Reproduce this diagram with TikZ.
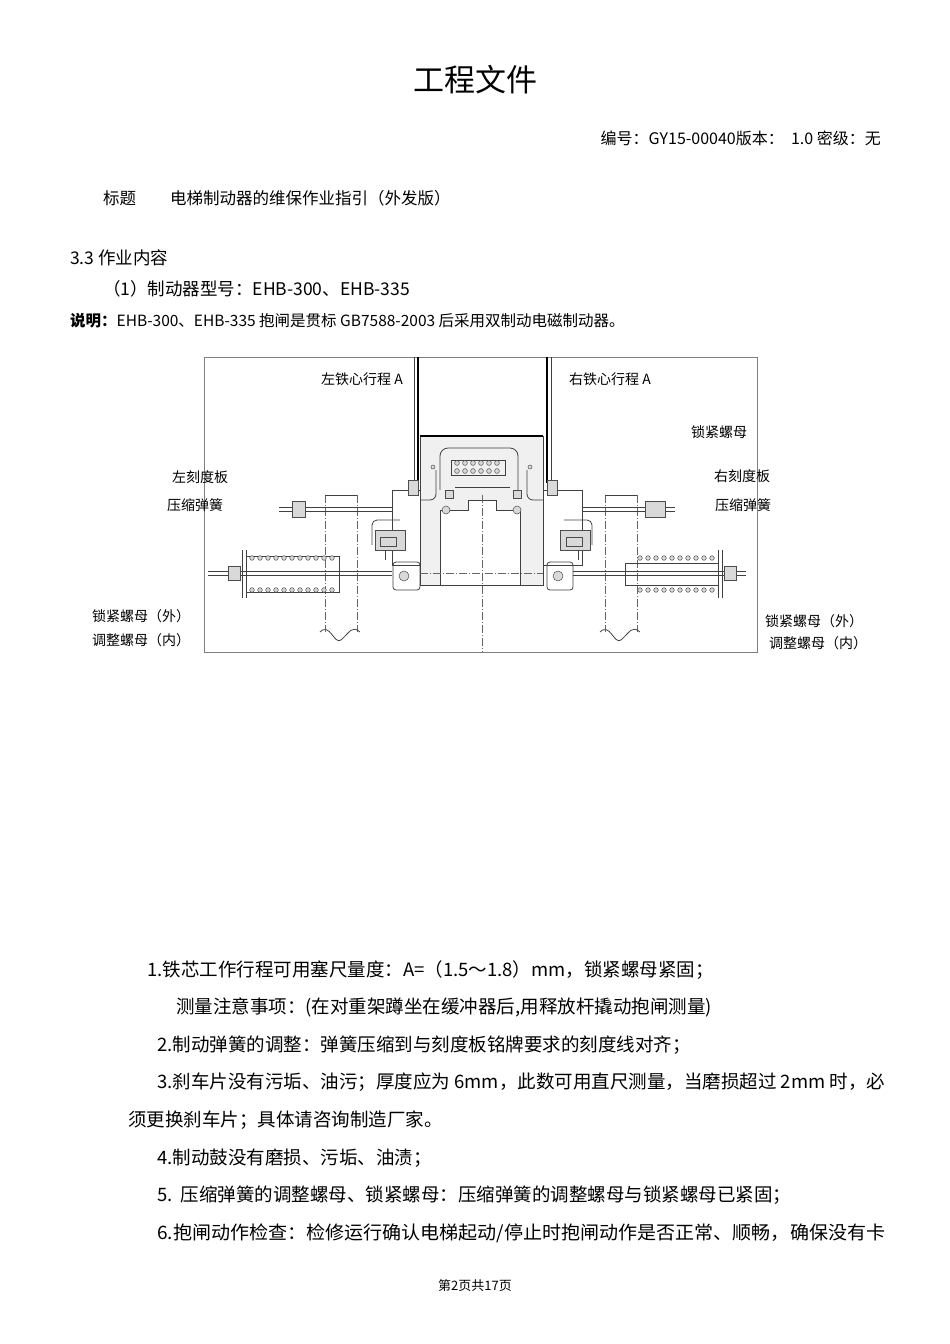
\documentclass[tikz,border=0pt]{standalone}
\usepackage{fontspec}
\usepackage{graphicx}
\setmainfont{Noto Sans CJK SC}
\begin{document}
\begin{tikzpicture}[x=1pt,y=-1pt,
  txt/.style={anchor=base west,inner sep=0pt,font=\fontsize{18.5}{20}\selectfont},
  lab/.style={anchor=center,inner sep=0pt,font=\fontsize{14}{16}\selectfont},
  ln/.style={draw=black!75,line width=0.8pt},
  cl/.style={draw=black!60,line width=0.6pt,dash pattern=on 8pt off 2pt on 1pt off 2pt},
  bolt/.style={draw=black!70,fill=black!15,line width=0.5pt}]
\useasboundingbox (0,0) rectangle (950,1344);
% header
\node[anchor=center,font=\fontsize{31}{33}\selectfont] (title) at (475,80) {工程文件};
\node[anchor=base east,inner sep=0pt,font=\fontsize{16}{18}\selectfont] (num) at (881,144) {编号：GY15-00040版本：\ \ 1.0 密级：无};
\node[txt,font=\fontsize{16.5}{18}\selectfont] (bt) at (103,204) {标题};
\node[txt,font=\fontsize{16.5}{18}\selectfont] (btt) at (170,204) {电梯制动器的维保作业指引（外发版）};
\node[txt,font=\fontsize{17.5}{20}\selectfont] (s33) at (70,264) {3.3 作业内容};
\node[txt,font=\fontsize{17.5}{20}\selectfont] (s1) at (103,295) {（1）制动器型号：EHB-300、EHB-335};
\node[txt,font=\fontsize{15.5}{17}\selectfont] (sm) at (70,326) {\textbf{说明：}EHB-300、EHB-335 抱闸是贯标 GB7588-2003 后采用双制动电磁制动器。};
% figure frame
\draw[draw=black!50,line width=0.6pt] (204,357) rectangle (757,652);
% rails
\draw[line width=1.6pt] (418,357) -- (418,483);
\draw[line width=1.6pt] (547,357) -- (547,483);
\draw[ln] (414,357) -- (414,483);
\draw[ln] (551,357) -- (551,483);
% central body
\draw[ln,fill=black!6] (420,436) rectangle (543,585);
\draw[line width=1.4pt] (420,436) -- (543,436);
\draw[ln,fill=white] (440,510) -- (468,510) -- (468,500) -- (496,500) -- (496,510) -- (520,510) -- (520,585) -- (440,585) -- cycle;
\draw[ln,rounded corners=8pt] (440,490) -- (440,448) -- (518,448) -- (518,490);
\draw[ln] (451,460) rectangle (505,475);
\foreach \x in {457,465,473,481,489,497}{\draw[bolt] (\x,463) circle (2.4);\draw[bolt] (\x,471) circle (2.4);}
\draw[bolt] (433,467) circle (2); \draw[bolt] (530,467) circle (2);
\draw[bolt] (445,490) rectangle (453,498); \draw[bolt] (513,490) rectangle (521,498);
\draw[bolt] (446,510) circle (4); \draw[bolt] (517,510) circle (4);
\draw[ln] (455,487) -- (510,487);
\draw[cl] (482,495) -- (482,652);
% side brackets
\draw[ln] (392,490) rectangle (420,565);
\draw[ln] (543,490) rectangle (582,565);
\draw[bolt] (408,480) rectangle (418,495); \draw[bolt] (547,480) rectangle (557,495);
% columns
\draw[cl] (325,495) -- (325,632); \draw[cl] (357,495) -- (357,632);
\draw[ln] (325,495) -- (357,495);
\draw[ln] (320,632) .. controls (330,622) and (334,645) .. (341,640) .. controls (350,632) and (352,625) .. (360,632);
\draw[cl] (605,495) -- (605,632); \draw[cl] (637,495) -- (637,632);
\draw[ln] (605,495) -- (637,495);
\draw[ln] (600,632) .. controls (610,622) and (614,645) .. (621,640) .. controls (630,632) and (632,625) .. (640,632);
% upper rod
\draw[ln] (279,507) -- (392,507); \draw[ln] (279,511) -- (392,511);
\draw[ln] (582,507) -- (675,507); \draw[ln] (582,511) -- (675,511);
\draw[bolt] (292,501) rectangle (305,517);
\draw[bolt] (645,501) rectangle (665,517);
\draw[ln,rounded corners=6pt] (420,500) -- (436,500) -- (436,470);
\draw[ln,rounded corners=6pt] (543,500) -- (527,500) -- (527,470);
% brake shoe assemblies
\draw[ln,rounded corners=5pt] (372,545) -- (372,520) -- (400,520);
\draw[bolt] (375,530) rectangle (405,550); \draw[bolt] (380,537) rectangle (396,546);
\draw[ln] (385,550) -- (385,560);
\draw[ln,rounded corners=5pt] (592,545) -- (592,520) -- (564,520);
\draw[bolt] (560,530) rectangle (590,550); \draw[bolt] (566,537) rectangle (582,546);
\draw[ln] (578,550) -- (578,560);
% lower rod
\draw[ln] (208,571) -- (392,571); \draw[ln] (208,575) -- (392,575);
\draw[ln] (573,571) -- (746,571); \draw[ln] (573,575) -- (746,575);
\draw[cl] (420,573) -- (543,573);
% pivot blocks
\draw[ln,rounded corners=3pt] (393,562) rectangle (420,590); \draw[bolt] (404,576) circle (5);
\draw[ln,rounded corners=3pt] (547,562) rectangle (573,590); \draw[bolt] (558,576) circle (5);
% left spring
\draw[ln] (242,550) -- (242,598); \draw[ln] (246,550) -- (246,598);
\draw[ln] (246,556) rectangle (339,592);
\foreach \x in {252,260,...,336}{\draw[bolt] (\x,558) circle (2.3);\draw[bolt] (\x,590) circle (2.3);}
\draw[bolt] (228,566) rectangle (240,580);
% right spring
\draw[ln] (718,550) -- (718,598); \draw[ln] (722,550) -- (722,598);
\draw[ln] (625,563) rectangle (718,585);
\foreach \x in {640,648,...,712}{\draw[bolt] (\x,558) circle (2.3);\draw[bolt] (\x,590) circle (2.3);}
\draw[bolt] (724,566) rectangle (736,580);
% figure labels
\node[lab] (la) at (362,379) {左铁心行程 A};
\node[lab] (ra) at (610,379) {右铁心行程 A};
\node[lab] (sn) at (719,432) {锁紧螺母};
\node[lab] (lk) at (200,477) {左刻度板};
\node[lab] (ls) at (195,505) {压缩弹簧};
\node[lab] (rk) at (742,476) {右刻度板};
\node[lab] (rs) at (743,505) {压缩弹簧};
\node[lab] (lo) at (141,616) {锁紧螺母（外）};
\node[lab] (li) at (141,640) {调整螺母（内）};
\node[lab] (ro) at (814,621) {锁紧螺母（外）};
\node[lab] (ri) at (818,643) {调整螺母（内）};
% list
\node[txt] (l1) at (147,976) {1.铁芯工作行程可用塞尺量度：A=（1.5～1.8）mm，锁紧螺母紧固；};
\node[txt] (l2) at (176,1013) {测量注意事项：(在对重架蹲坐在缓冲器后,用释放杆撬动抱闸测量)};
\node[txt] (l3) at (157,1051) {2.制动弹簧的调整：弹簧压缩到与刻度板铭牌要求的刻度线对齐；};
\node[txt] (l4) at (157,1088) {\resizebox{728pt}{\height}{3.刹车片没有污垢、油污；厚度应为 6mm，此数可用直尺测量，当磨损超过 2mm 时，必}};
\node[txt] (l5) at (128,1126) {须更换刹车片；具体请咨询制造厂家。};
\node[txt] (l6) at (157,1164) {4.制动鼓没有磨损、污垢、油渍；};
\node[txt] (l7) at (157,1201) {5.\ \ 压缩弹簧的调整螺母、锁紧螺母：压缩弹簧的调整螺母与锁紧螺母已紧固；};
\node[txt] (l8) at (157,1239) {\resizebox{728pt}{\height}{6.抱闸动作检查：检修运行确认电梯起动/停止时抱闸动作是否正常、顺畅，确保没有卡}};
\node[anchor=center,font=\fontsize{13}{14}\selectfont] (ft) at (475,1286) {第2页共17页};
\end{tikzpicture}
\end{document}
